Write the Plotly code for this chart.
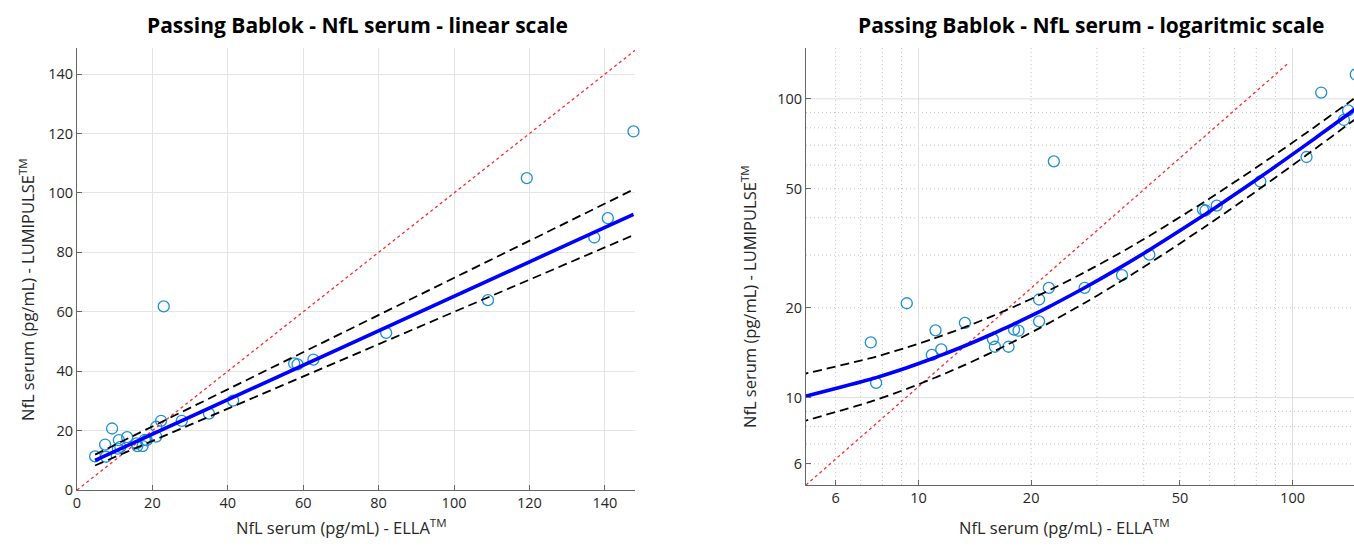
import numpy as np
import plotly.graph_objects as go

# ---------------- data ----------------
ella = [4.8, 7.45, 7.7, 9.3, 10.85, 11.1, 11.5, 13.3, 15.8, 16.0, 17.4, 18.0, 18.5,
        21.0, 21.0, 22.3, 23.0, 27.8, 35.0, 41.4, 57.6, 58.5, 62.7, 82.0, 109.0,
        119.3, 137.2, 140.8, 147.6]
lumipulse = [11.3, 15.3, 11.2, 20.7, 13.9, 16.8, 14.5, 17.8, 15.7, 14.8, 14.8, 16.9, 16.75,
             21.3, 18.0, 23.3, 61.8, 23.3, 25.7, 30.1, 42.6, 42.3, 43.9, 52.9, 63.9,
             105.0, 85.0, 91.5, 120.7]

pb_intercept = 7.2
pb_slope = 0.58
ci_upper_intercept = 8.9
ci_upper_slope = 0.625
ci_lower_intercept = 5.65
ci_lower_slope = 0.543

identity_lin_x = [0, 148]
identity_lin_y = [0, 148]
identity_log_x = [5, 97]
identity_log_y = [5.1, 131]

lin_ticks = [0, 20, 40, 60, 80, 100, 120, 140]
log_ticks = [6, 10, 20, 50, 100]
log_major_grid = [10, 100]
log_minor_grid = [6, 7, 8, 9, 20, 30, 40, 50, 60, 70, 80, 90]

title_lin = "Passing Bablok - NfL serum - linear scale"
title_log = "Passing Bablok - NfL serum - logaritmic scale"
xlabel = "NfL serum (pg/mL) - ELLA<sup>TM</sup>"
ylabel = "NfL serum (pg/mL) - LUMIPULSE<sup>TM</sup>"

# ---------------- derived lines ----------------
fit_x = np.sort(np.array(ella))
fit_y = pb_intercept + pb_slope * fit_x
up_y = ci_upper_intercept + ci_upper_slope * fit_x
lo_y = ci_lower_intercept + ci_lower_slope * fit_x

W, H = 1354, 547
FONT = "Open Sans"
MARK_COLOR = "#1f8fd2"

fig = go.Figure()

for xa, ya, idx, idy, spline in [("x", "y", identity_lin_x, identity_lin_y, "linear"),
                                 ("x2", "y2", identity_log_x, identity_log_y, "spline")]:
    fig.add_trace(go.Scatter(x=ella, y=lumipulse, mode="markers", xaxis=xa, yaxis=ya,
                             marker=dict(symbol="circle-open", size=11, color=MARK_COLOR,
                                         line=dict(width=1.3, color=MARK_COLOR)),
                             cliponaxis=(xa == "x2")))
    fig.add_trace(go.Scatter(x=idx, y=idy, mode="lines", xaxis=xa, yaxis=ya,
                             line=dict(color="#ff2a2a", width=1.3, dash="dot")))
    for yy in (up_y, lo_y):
        fig.add_trace(go.Scatter(x=fit_x, y=yy, mode="lines", xaxis=xa, yaxis=ya,
                                 line=dict(color="black", width=1.8, dash="9px,5px",
                                           shape=spline)))
    fig.add_trace(go.Scatter(x=fit_x, y=fit_y, mode="lines", xaxis=xa, yaxis=ya,
                             line=dict(color="#0000ff", width=3.6, shape=spline)))

axis_common = dict(ticks="inside", ticklen=5, tickcolor="#666666", showline=True,
                   linecolor="#666666", linewidth=1, zeroline=False, mirror=False,
                   automargin=False,
                   tickfont=dict(family=FONT, size=14.5, color="#262626"))

def px2x(p):
    return p / W

def px2y(p):
    return 1 - p / H

fig.update_layout(
    width=W, height=H, margin=dict(l=0, r=0, t=0, b=0, autoexpand=False),
    paper_bgcolor="white", plot_bgcolor="white", showlegend=False,
    xaxis=dict(domain=[px2x(77), px2x(635)], range=[0, 148], tickvals=lin_ticks,
               showgrid=True, gridcolor="#e4e4e4", anchor="y", **axis_common),
    yaxis=dict(domain=[px2y(490), px2y(48)], range=[0, 148.8], tickvals=lin_ticks,
               showgrid=True, gridcolor="#e4e4e4", anchor="x", **axis_common),
    xaxis2=dict(domain=[px2x(806), 1.0], type="log",
                range=[np.log10(5), np.log10(146)], tickvals=log_ticks,
                ticktext=[str(t) for t in log_ticks], showgrid=False, anchor="y2",
                **axis_common),
    yaxis2=dict(domain=[px2y(485), px2y(48)], type="log",
                range=[np.log10(5.1), np.log10(148)], tickvals=log_ticks,
                ticktext=[str(t) for t in log_ticks], showgrid=False, anchor="x2",
                **axis_common),
)

shapes = []
for g in log_minor_grid:
    shapes.append(dict(type="line", xref="x2", yref="y2 domain", x0=g, x1=g, y0=0, y1=1,
                       line=dict(color="#c4c4c4", width=1, dash="1px,3px"), layer="below"))
    shapes.append(dict(type="line", yref="y2", xref="x2 domain", y0=g, y1=g, x0=0, x1=1,
                       line=dict(color="#c4c4c4", width=1, dash="1px,3px"), layer="below"))
for g in log_major_grid:
    shapes.append(dict(type="line", xref="x2", yref="y2 domain", x0=g, x1=g, y0=0, y1=1,
                       line=dict(color="#dedede", width=1), layer="below"))
    shapes.append(dict(type="line", yref="y2", xref="x2 domain", y0=g, y1=g, x0=0, x1=1,
                       line=dict(color="#dedede", width=1), layer="below"))
fig.update_layout(shapes=shapes)

ann = []
ann.append(dict(text=title_lin, x=px2x(357), y=px2y(25), xref="paper", yref="paper",
                showarrow=False, xanchor="center", yanchor="middle",
                font=dict(family=FONT, size=21, color="black", weight="bold")))
ann.append(dict(text=title_log, x=px2x(1091), y=px2y(25), xref="paper", yref="paper",
                showarrow=False, xanchor="center", yanchor="middle",
                font=dict(family=FONT, size=21, color="black", weight="bold")))
for cx, cy in [(341, 527), (1064, 527)]:
    ann.append(dict(text=xlabel, x=px2x(cx), y=px2y(cy), xref="paper", yref="paper",
                    showarrow=False, xanchor="center", yanchor="middle",
                    font=dict(family=FONT, size=16.5, color="#262626")))
for cx, cy in [(27, 290), (749, 296)]:
    ann.append(dict(text=ylabel, x=px2x(cx), y=px2y(cy), xref="paper", yref="paper",
                    showarrow=False, xanchor="center", yanchor="middle", textangle=-90,
                    font=dict(family=FONT, size=16.5, color="#262626")))
fig.update_layout(annotations=ann)

fig.write_html(
    "out.html",
    config={"displayModeBar": False},
    post_script=("document.documentElement.style.overflow='hidden';"
                 "document.body.style.overflow='hidden';"
                 "document.body.style.margin='0px';"),
)
